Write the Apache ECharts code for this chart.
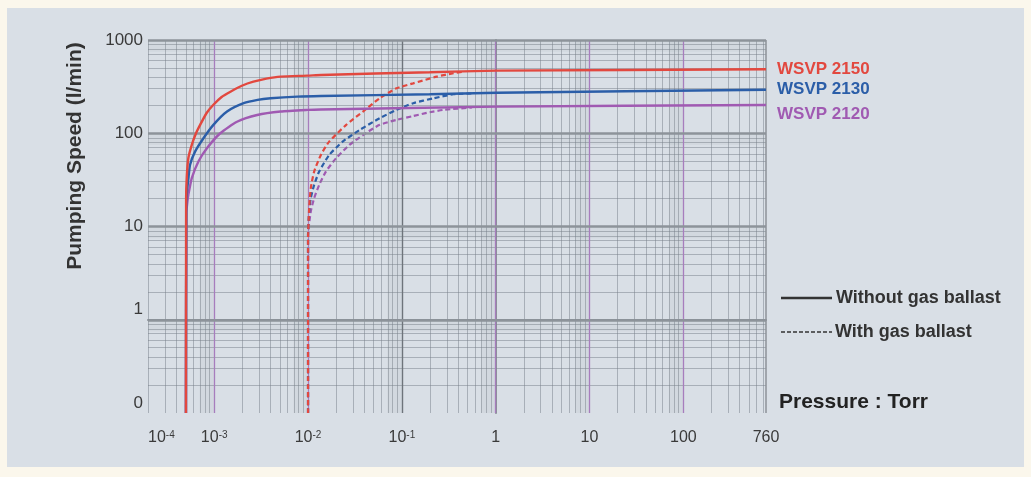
<!DOCTYPE html>
<html><head><meta charset="utf-8">
<script src="https://cdn.jsdelivr.net/npm/echarts@6/dist/echarts.min.js"></script>
<style>
html,body{margin:0;padding:0;background:#fbf7ec;width:1031px;height:477px;overflow:hidden;}
#panel{position:absolute;left:7px;top:8px;width:1017px;height:459px;background:#d9dfe6;}
#chart{position:absolute;left:0;top:0;width:1031px;height:477px;}
</style></head><body>
<div id="panel"></div>
<div id="chart"></div>
<script>
// ---- data (pressure in Torr, pumping speed in l/min) ----
const seriesNames = ['WSVP 2150', 'WSVP 2130', 'WSVP 2120'];
const seriesColors = ['#e2483f', '#2b5ea8', '#a05ab2'];

const solid2150P = [5.0e-4, 5.02e-4, 5.1e-4, 5.3e-4, 5.77e-4, 6.4e-4, 7.08e-4, 8.3e-4, 9.75e-4, 1.2e-3, 1.49e-3, 2.0e-3, 2.62e-3, 3.6e-3, 5.1e-3, 9.9e-3, 1.38e-2, 0.198, 1.03, 760];
const solid2150S = [0.1, 20, 34, 54, 75, 100, 123, 165, 201, 245, 279, 325, 357, 385, 405, 415, 422, 451, 469, 485];
const solid2130P = [5.0e-4, 5.05e-4, 5.15e-4, 5.3e-4, 5.52e-4, 6.25e-4, 7.68e-4, 9.8e-4, 1.37e-3, 2.06e-3, 2.9e-3, 3.99e-3, 7.7e-3, 1.37e-2, 0.198, 1.03, 760];
const solid2130S = [0.1, 18, 25, 32, 45.7, 63.5, 88.4, 123, 171, 210, 228, 237, 247, 251, 262, 272, 293];
const solid2120P = [5.0e-4, 5.05e-4, 5.18e-4, 5.3e-4, 5.77e-4, 6.79e-4, 8.36e-4, 1.16e-3, 1.75e-3, 2.87e-3, 5.1e-3, 9.9e-3, 1.37e-2, 1.03, 760];
const solid2120S = [0.1, 14, 18.5, 21.8, 33, 49.7, 69, 100, 133, 157, 171, 178, 180, 193, 201];

const dashed2150P = [0.01, 0.01, 0.01028, 0.0107, 0.01162, 0.0137, 0.0168, 0.0255, 0.0385, 0.058, 0.0875, 0.132, 0.235, 0.355, 0.455];
const dashed2150S = [0.1, 7, 15.7, 25.8, 38.8, 58.5, 81.3, 123, 171, 237, 303, 343, 405, 440, 457];
const dashed2130P = [0.01, 0.01, 0.01028, 0.0107, 0.01162, 0.01315, 0.0168, 0.0234, 0.0353, 0.058, 0.0875, 0.132, 0.217, 0.355, 0.558];
const dashed2130S = [0.1, 8, 14.5, 20.1, 27.9, 38.8, 58.5, 81.3, 108, 145, 178, 210, 237, 262, 267];
const dashed2120P = [0.01, 0.01, 0.0107, 0.01162, 0.01315, 0.0155, 0.0199, 0.0276, 0.0385, 0.058, 0.0875, 0.132, 0.199, 0.277, 0.56];
const dashed2120S = [0.1, 8, 14.5, 20.1, 27.9, 38.8, 54, 75, 95.6, 123, 139, 153, 168, 178, 189];

// tick labels
const xTickPressures = [1.97e-4, 1e-3, 1e-2, 1e-1, 1, 10, 100, 760];
const xTickLabels = ['10^-4', '10^-3', '10^-2', '10^-1', '1', '10', '100', '760'];
const yTickSpeeds = [0.1, 1, 10, 100, 1000];
const yTickLabels = ['0', '1', '10', '100', '1000'];

const legendTexts = ['Without gas ballast', 'With gas ballast'];
const axisTitleY = 'Pumping Speed (l/min)';
const axisTitleX = 'Pressure : Torr';

// ---- build ----
const L = Math.log10;
const X_MIN = L(xTickPressures[0]), X_MAX = L(xTickPressures[xTickPressures.length - 1]);
const Y_MIN = L(yTickSpeeds[0]), Y_MAX = L(yTickSpeeds[yTickSpeeds.length - 1]);
const xTickVals = xTickPressures.map(L);
const yTickVals = yTickSpeeds.map(L);
const pts = (P, S) => P.map((p, i) => [L(p), L(S[i])]);

// grid lines
const gridLines = [];
const minorStyle = { color: 'rgba(120,128,138,0.5)', width: 1, type: 'solid' };
for (let d = -4; d <= 2; d++) for (let k = 2; k <= 9; k++) {
  const v = L(k) + d;
  if (v > X_MIN + 0.005 && v < X_MAX - 0.005) gridLines.push({ xAxis: v, lineStyle: minorStyle });
}
for (let d = -1; d <= 2; d++) for (let k = 2; k <= 9; k++) {
  gridLines.push({ yAxis: L(k) + d, lineStyle: minorStyle });
}
const purple = { color: '#a77dbd', width: 1.3, type: 'solid' };
[-3, -2, 0, 1, 2].forEach(v => gridLines.push({ xAxis: v, lineStyle: purple }));
gridLines.push({ xAxis: -1, lineStyle: { color: '#6e747b', width: 1.4, type: 'solid' } });
gridLines.push({ xAxis: X_MAX, lineStyle: { color: '#8c9299', width: 1.5, type: 'solid' } });
const majorH = { color: '#8d939a', width: 2.6, type: 'solid' };
[0, 1, 2, 3].forEach(v => gridLines.push({ yAxis: v, lineStyle: majorH }));

const bands = [];
for (let d = -4; d <= 1; d++) {
  const a = Math.max(L(7) + d, X_MIN), b = d + 1;
  bands.push([{ xAxis: a }, { xAxis: b }]);
}
for (let d = -1; d <= 2; d++) bands.push([{ yAxis: L(7.5) + d }, { yAxis: d + 1 }]);

function xFmt(v) {
  let i = xTickVals.findIndex(t => Math.abs(t - v) < 1e-6);
  if (i < 0) return '';
  const s = xTickLabels[i];
  if (s.indexOf('^') >= 0) { const p = s.split('^'); return '{b|' + p[0] + '}{s|' + p[1] + '}'; }
  return '{b|' + s + '}';
}
function yFmt(v) {
  let i = yTickVals.findIndex(t => Math.abs(t - v) < 1e-6);
  if (i < 0) return '';
  return yTickSpeeds[i] <= 1 ? '{lo|' + yTickLabels[i] + '}' : yTickLabels[i];
}

const curveSeries = [];
const solids = [[solid2150P, solid2150S], [solid2130P, solid2130S], [solid2120P, solid2120S]];
const dashes = [[dashed2150P, dashed2150S], [dashed2130P, dashed2130S], [dashed2120P, dashed2120S]];
const endOffsets = [[0, 0], [0, 0], [0, 9]];
solids.forEach((sd, i) => curveSeries.push({
  type: 'line', name: seriesNames[i], data: pts(sd[0], sd[1]), symbol: 'none', smooth: 0.2, z: 10 - i,
  lineStyle: { color: seriesColors[i], width: 2.4 },
  endLabel: { show: true, formatter: seriesNames[i], color: seriesColors[i], fontWeight: 'bold', fontSize: 17,
    fontFamily: 'Liberation Sans', distance: 11, offset: endOffsets[i] }
}));
dashes.forEach((sd, i) => curveSeries.push({
  type: 'line', name: seriesNames[i] + ' (gas ballast)', data: pts(sd[0], sd[1]), symbol: 'none', smooth: 0.2, z: 6 - i,
  lineStyle: { color: seriesColors[i], width: 2.2, type: [5, 3] }
}));

const chart = echarts.init(document.getElementById('chart'), null, { renderer: 'canvas' });
chart.setOption({
  animation: false,
  backgroundColor: 'transparent',
  textStyle: { fontFamily: 'Liberation Sans' },
  grid: { left: 148, right: 265, top: 40, bottom: 64 },
  xAxis: {
    type: 'value', min: X_MIN, max: X_MAX,
    axisLine: { show: true, lineStyle: { color: '#8a9097', width: 2 } },
    axisTick: { show: false }, splitLine: { show: false },
    axisLabel: {
      customValues: xTickVals, formatter: xFmt, margin: 17, alignMinLabel: 'left', alignMaxLabel: 'center',
      rich: {
        b: { fontSize: 16, color: '#3a3a3a', fontFamily: 'Liberation Sans' },
        s: { fontSize: 10, color: '#3a3a3a', verticalAlign: 'top', fontFamily: 'Liberation Sans' }
      }
    }
  },
  yAxis: {
    type: 'value', min: Y_MIN, max: Y_MAX,
    axisLine: { show: true, lineStyle: { color: '#8a9097', width: 2 } },
    axisTick: { show: false }, splitLine: { show: false },
    axisLabel: {
      customValues: yTickVals, formatter: yFmt, margin: 5, fontSize: 17, color: '#3a3a3a',
      rich: { lo: { fontSize: 17, color: '#3a3a3a', padding: [0, 0, 20, 0] } }
    }
  },
  series: [{
    type: 'line', data: [], silent: true, z: 1,
    markArea: { silent: true, itemStyle: { color: 'rgba(105,115,125,0.06)' }, data: bands },
    markLine: { silent: true, symbol: 'none', label: { show: false }, emphasis: { disabled: true }, data: gridLines }
  }].concat(curveSeries),
  graphic: [
    { type: 'text', x: 75, y: 156, rotation: Math.PI / 2,
      style: { text: axisTitleY, fill: '#333', font: 'bold 21px "Liberation Sans"', align: 'center', verticalAlign: 'middle', textAlign: 'center', textVerticalAlign: 'middle' } },
    { type: 'line', shape: { x1: 781, y1: 298, x2: 832, y2: 298 }, style: { stroke: '#333', lineWidth: 2.5 } },
    { type: 'line', shape: { x1: 781, y1: 332, x2: 832, y2: 332 }, style: { stroke: '#333', lineWidth: 1.5, lineDash: [4, 2] } },
    { type: 'text', x: 836, y: 298, style: { text: legendTexts[0], fill: '#333', font: 'bold 18px "Liberation Sans"', align: 'left', verticalAlign: 'middle', textAlign: 'left', textVerticalAlign: 'middle' } },
    { type: 'text', x: 835, y: 332, style: { text: legendTexts[1], fill: '#333', font: 'bold 18px "Liberation Sans"', align: 'left', verticalAlign: 'middle', textAlign: 'left', textVerticalAlign: 'middle' } },
    { type: 'text', x: 779, y: 402, style: { text: axisTitleX, fill: '#222', font: 'bold 21px "Liberation Sans"', align: 'left', verticalAlign: 'middle', textAlign: 'left', textVerticalAlign: 'middle' } }
  ]
});
</script>
</body></html>
